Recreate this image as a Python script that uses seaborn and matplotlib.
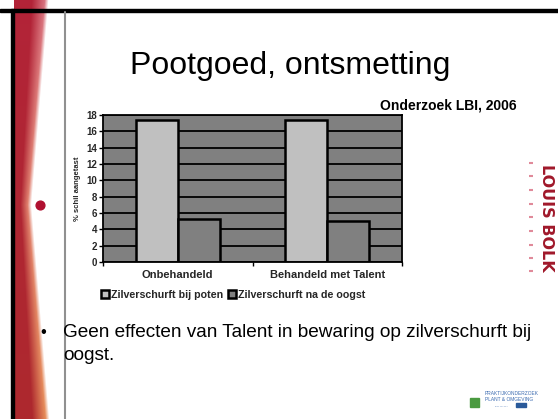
import numpy as np
import pandas as pd
import seaborn as sns
import matplotlib.pyplot as plt
from matplotlib.patches import Rectangle

# chart data
categories = ["Onbehandeld", "Behandeld met Talent"]
series_names = ["Zilverschurft bij poten", "Zilverschurft na de oogst"]
bij_poten = [17.4, 17.4]
na_oogst = [5.3, 5.0]
y_ticks = list(range(0, 19, 2))

df = pd.DataFrame({
    "Behandeling": categories * 2,
    "Serie": [series_names[0]] * 2 + [series_names[1]] * 2,
    "Waarde": bij_poten + na_oogst,
})

sns.set_theme(style="white")
plt.rcParams["font.family"] = ["Liberation Sans", "DejaVu Sans"]

W, H = 558, 419
fig = plt.figure(figsize=(W / 100, H / 100), dpi=100)

# ---------------- slide background / decorations ----------------
bg = fig.add_axes([0, 0, 1, 1])
bg.set_xlim(0, W)
bg.set_ylim(H, 0)
bg.axis("off")

# red gradient strip on the left
xs = np.arange(14, 64)
ys = np.arange(H)
X, Y = np.meshgrid(xs, ys)
t = np.abs(Y - 205) / 214.0
edge = 27 + 18 * t
core = 20 + 12 * t
low = (Y / H)[..., None]
dark = np.array([0.70, 0.14, 0.22]) * (1 - low) + np.array([0.68, 0.16, 0.18]) * low
light = np.array([0.85, 0.45, 0.50]) * (1 - low) + np.array([0.90, 0.55, 0.35]) * low
mid = np.clip((X - core) / np.maximum(edge - core, 1), 0, 1)[..., None]
col = dark * (1 - mid) + light * mid
white_mix = np.clip((X - edge) / 4.0, 0, 1)[..., None]
col = col * (1 - white_mix) + 1.0 * white_mix
bg.imshow(col, extent=(14, 64, H, 0), aspect="auto", zorder=0)
bg.scatter([40], [205], s=40, color="#b01030", zorder=2)

# slide frame lines
bg.add_patch(Rectangle((0, 9), W, 3, color="black", zorder=3))
bg.add_patch(Rectangle((11, 9), 3, H, color="black", zorder=3))
bg.plot([64.5, 64.5], [12, H], color="#909090", lw=1.5, zorder=3)

# title and bullet text
bg.text(290, 66, "Pootgoed, ontsmetting", fontsize=23, ha="center", va="center", color="black")
bg.text(43, 332, "\u2022", fontsize=12, ha="center", va="center", color="black")
bg.text(63, 337, "Geen effecten van Talent in bewaring op zilverschurft bij",
        fontsize=13.7, ha="left", va="baseline", color="black")
bg.text(63, 360, "oogst.", fontsize=13.7, ha="left", va="baseline", color="black")
bg.text(517, 105, "Onderzoek LBI, 2006", fontsize=10, fontweight="bold",
        ha="right", va="center", color="black")

# Louis Bolk logo on the right
bg.text(546, 218, "LOUIS BOLK", rotation=-90, fontsize=11.5, fontweight="bold",
        ha="center", va="center", color="#a0182a", family="DejaVu Sans")
bg.scatter([531] * 9, [163, 176, 190, 204, 217, 231, 245, 258, 271],
           s=6, marker="_", color="#e08a9a", zorder=2)

# praktijkonderzoek logo bottom right
bg.add_patch(Rectangle((470, 398), 9, 9, color="#4a9a40", zorder=2))
bg.text(485, 393, "PRAKTIJKONDERZOEK", fontsize=3.5, color="#3a6ab0", va="center")
bg.text(485, 399, "PLANT & OMGEVING", fontsize=3.5, color="#3a6ab0", va="center")
bg.text(495, 405, "..........", fontsize=3.5, color="#3a6ab0", va="center")
bg.add_patch(Rectangle((516, 403), 10, 4, color="#2a5a9a", zorder=2))

# ---------------- chart ----------------
ax = fig.add_axes([103 / W, 1 - 262 / H, 299 / W, 147 / H])
ax.set_facecolor("#808080")
sns.barplot(data=df, x="Behandeling", y="Waarde", hue="Serie",
            palette=["#c0c0c0", "#808080"], width=0.56,
            edgecolor="black", linewidth=1.8, saturation=1, ax=ax)

ax.set_ylim(0, 18)
ax.set_xlim(-0.5, 1.5)
ax.set_yticks(y_ticks)
ax.set_yticklabels([str(v) for v in y_ticks], fontsize=7, fontweight="bold")
ax.set_axisbelow(True)
ax.yaxis.grid(True, color="black", linewidth=1.3)
ax.xaxis.grid(False)
ax.tick_params(axis="y", direction="out", length=3, width=1, color="black", pad=1, left=True)
ax.set_xticks([0, 1])
ax.set_xticklabels(categories, fontsize=8, fontweight="bold")
ax.tick_params(axis="x", length=0, pad=6)
ax.set_xticks([-0.5, 0.5, 1.5], minor=True)
ax.tick_params(axis="x", which="minor", direction="out", length=3, width=1, color="black", bottom=True)
ax.set_xlabel("")
ax.set_ylabel("% schil aangetast", fontsize=5.5, fontweight="bold", labelpad=4)
for side in ["left", "bottom", "top", "right"]:
    ax.spines[side].set_color("black")
    ax.spines[side].set_linewidth(1.3)

leg = ax.legend(loc="upper left", bbox_to_anchor=(-0.02, -0.16), ncol=2, frameon=False,
                handlelength=0.7, handleheight=0.7, handletextpad=0.2, columnspacing=0.5,
                borderaxespad=0, prop={"size": 7.7, "weight": "bold"})

fig.savefig("out.png", dpi=100)
